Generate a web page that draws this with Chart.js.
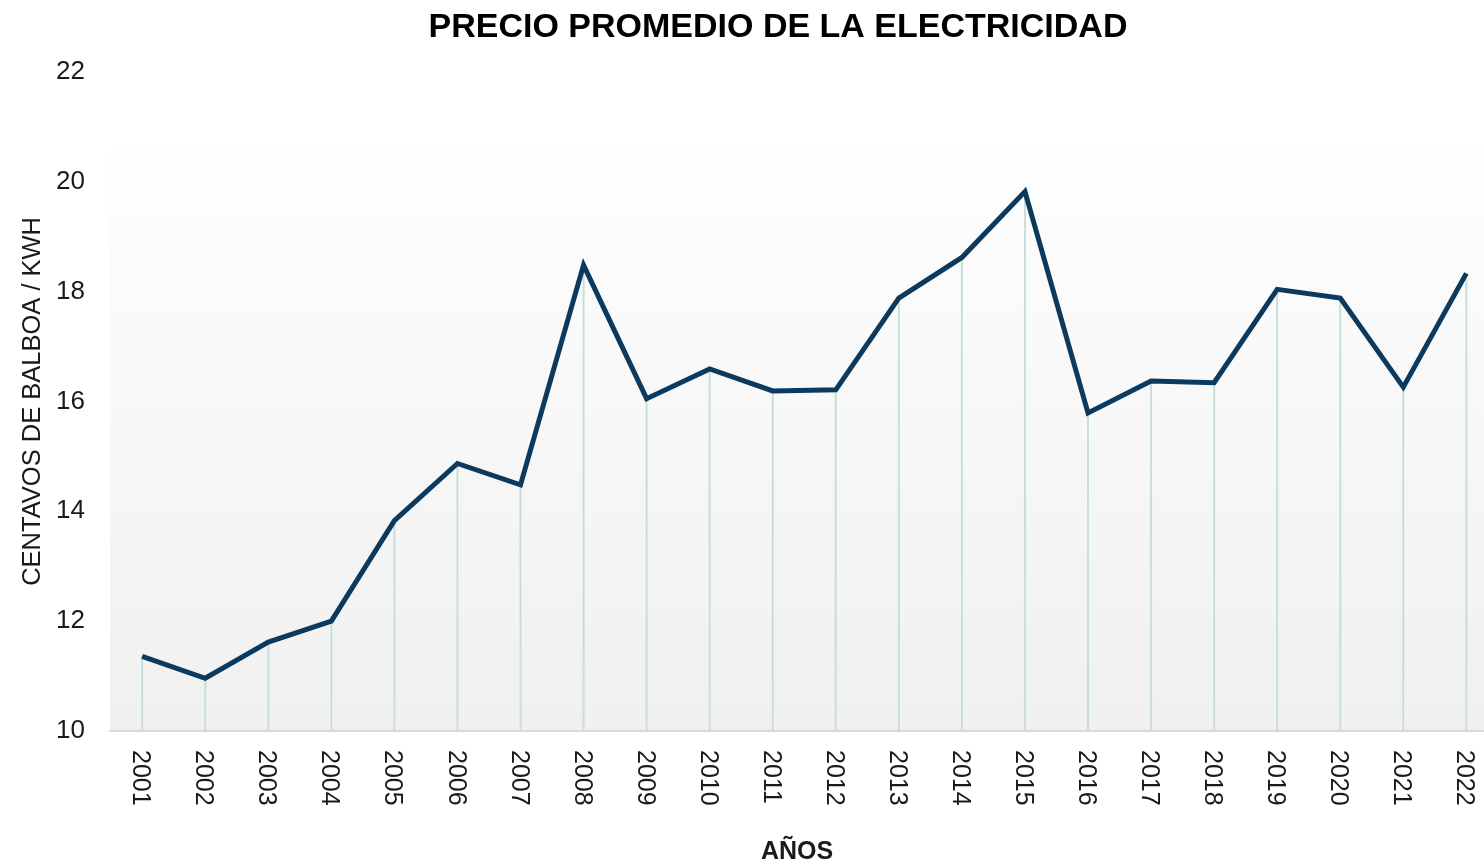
<!DOCTYPE html>
<html>
<head>
<meta charset="utf-8">
<title>Precio promedio de la electricidad</title>
<script src="https://cdn.jsdelivr.net/npm/chart.js@4/dist/chart.umd.min.js"></script>
<style>
  html, body { margin: 0; padding: 0; background: #fff; }
  #wrap { width: 1484px; height: 867px; }
</style>
</head>
<body>
<div id="wrap"><canvas id="myChart"></canvas></div>
<script>
// datos
var years = [2001, 2002, 2003, 2004, 2005, 2006, 2007, 2008, 2009, 2010, 2011,
             2012, 2013, 2014, 2015, 2016, 2017, 2018, 2019, 2020, 2021, 2022];
var precio = [11.36, 10.96, 11.62, 12.0, 13.83, 14.87, 14.48, 18.48, 16.05, 16.59, 16.19,
              16.21, 17.88, 18.62, 19.82, 15.79, 16.37, 16.34, 18.04, 17.88, 16.26, 18.33];
var yTicks = [10, 12, 14, 16, 18, 20, 22];

var fontFam = "'Liberation Sans', Arial, sans-serif";

var points = [];
for (var i = 0; i < years.length; i++) {
    points.push({ x: years[i], y: precio[i] });
}

// fondo degradado y lineas verticales hasta el eje
var fondo = {
    id: 'fondo',
    afterLayout: function (chart) {
        // el titulo esta un poco corrido a la derecha
        if (chart.titleBlock) chart.titleBlock.left = 72;
    },
    beforeDraw: function (chart) {
        var ctx = chart.ctx;
        var a = chart.chartArea;
        var top = a.top + (a.bottom - a.top) * 0.118;
        var g = ctx.createLinearGradient(0, top, 0, a.bottom);
        g.addColorStop(0, '#fefefe');
        g.addColorStop(1, '#f0f0f0');
        ctx.save();
        ctx.fillStyle = g;
        ctx.fillRect(a.left, top, a.right - a.left, a.bottom - top);
        ctx.restore();
    },
    beforeDatasetsDraw: function (chart) {
        var ctx = chart.ctx;
        var a = chart.chartArea;
        var meta = chart.getDatasetMeta(0);
        ctx.save();
        ctx.strokeStyle = '#c9dedc';
        ctx.lineWidth = 2;
        meta.data.forEach(function (p) {
            ctx.beginPath();
            ctx.moveTo(p.x, p.y);
            ctx.lineTo(p.x, a.bottom - 1);
            ctx.stroke();
        });
        ctx.restore();
    },
    afterDraw: function (chart) {
        // etiquetas de anios giradas 90 grados (de arriba hacia abajo)
        var ctx = chart.ctx;
        var xs = chart.scales.x;
        var a = chart.chartArea;
        ctx.save();
        ctx.fillStyle = '#1a1a1a';
        ctx.font = "25px " + fontFam;
        ctx.textAlign = 'left';
        ctx.textBaseline = 'middle';
        years.forEach(function (yr) {
            var px = xs.getPixelForValue(yr);
            ctx.save();
            ctx.translate(px - 2, a.bottom + 19);
            ctx.rotate(Math.PI / 2);
            ctx.fillText(String(yr), 0, 0);
            ctx.restore();
        });
        ctx.restore();
    }
};

var ctx = document.getElementById('myChart').getContext('2d');
var myChart = new Chart(ctx, {
    type: 'line',
    data: {
        datasets: [{
            label: 'Precio',
            data: points,
            borderColor: '#0c3a5e',
            borderWidth: 5,
            pointRadius: 0,
            tension: 0,
            fill: false
        }]
    },
    options: {
        responsive: true,
        maintainAspectRatio: false,
        animation: false,
        layout: { padding: { left: 18, right: 0, top: 0, bottom: 0 } },
        plugins: {
            legend: { display: false },
            tooltip: { enabled: false },
            title: {
                display: true,
                text: 'PRECIO PROMEDIO DE LA ELECTRICIDAD',
                color: '#000',
                font: { family: fontFam, size: 34, weight: 'bold' },
                padding: { top: 7, bottom: 24 }
            }
        },
        scales: {
            x: {
                type: 'linear',
                min: 2000.49,
                max: 2022.28,
                grid: { display: false },
                border: { display: true, color: '#dadada', width: 2 },
                ticks: { display: false },
                title: {
                    display: true,
                    text: 'AÑOS',
                    color: '#1a1a1a',
                    font: { family: fontFam, size: 25, weight: 'bold' },
                    padding: { top: 0, bottom: 0 }
                },
                afterFit: function (s) { s.height = 136; }
            },
            y: {
                min: 10,
                max: 22,
                afterBuildTicks: function (s) {
                    s.ticks = yTicks.map(function (v) { return { value: v }; });
                },
                grid: { display: false },
                border: { display: false },
                ticks: {
                    color: '#1a1a1a',
                    font: { family: fontFam, size: 26 },
                    padding: 17
                },
                title: {
                    display: true,
                    text: 'CENTAVOS DE BALBOA / KWH',
                    color: '#1a1a1a',
                    font: { family: fontFam, size: 25.5 },
                    padding: { top: 0, bottom: 0 }
                },
                afterFit: function (s) { s.width = 92; }
            }
        }
    },
    plugins: [fondo]
});
</script>
</body>
</html>
